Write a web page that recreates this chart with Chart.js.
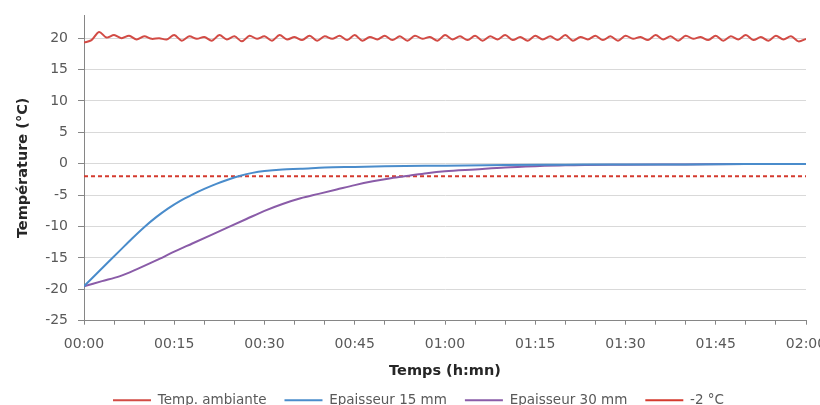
<!DOCTYPE html>
<html><head><meta charset="utf-8">
<script src="https://cdn.jsdelivr.net/npm/chart.js@4.4.0/dist/chart.umd.min.js"></script>
<style>html,body{margin:0;padding:0;background:#fff;overflow:hidden}#wrap{width:820px;height:420px;position:relative}</style>
</head><body><div id="wrap"><canvas id="c"></canvas></div>
<script>
// X tick labels (every 15 minutes) and Y tick values
const timeLabels = ['00:00','00:15','00:30','00:45','01:00','01:15','01:30','01:45','02:00'];
const yTickValues = [-25,-20,-15,-10,-5,0,5,10,15,20];

// Ambient temperature (sampled every 1.25 min)
const ambientStep = 1.25;
const ambientValues = [19.3,19.7,21.0,20.1,20.5,20.0,20.4,19.8,20.3,19.9,20.0,19.8,20.5,19.6,20.3,19.9,20.2,19.6,20.5,19.8,
20.3,19.5,20.4,19.9,20.3,19.6,20.5,19.8,20.2,19.7,20.4,19.6,20.3,19.9,20.4,19.7,20.5,19.6,20.2,19.8,
20.4,19.7,20.3,19.6,20.4,19.9,20.2,19.6,20.5,19.8,20.3,19.7,20.4,19.6,20.3,19.8,20.5,19.7,20.2,19.6,
20.4,19.8,20.3,19.7,20.5,19.6,20.2,19.8,20.4,19.7,20.3,19.6,20.4,19.9,20.2,19.7,20.5,19.8,20.3,19.6,
20.4,19.9,20.2,19.7,20.4,19.6,20.3,19.8,20.5,19.7,20.2,19.6,20.4,19.8,20.3,19.5,19.9];

// Thickness 15 mm
const times15 = [0,2,4,6,8,10,12,14,16,18,20,22,24,26,28,30,33,36,40,45,50,60,70,80,90,100,110,120];
const values15 = [-19.5,-17.6,-15.7,-13.8,-11.9,-10.1,-8.5,-7.1,-5.9,-4.9,-4.0,-3.2,-2.5,-1.9,-1.45,-1.15,-0.9,-0.8,-0.6,-0.5,-0.4,-0.3,-0.2,-0.15,-0.1,-0.1,-0.05,-0.05];

// Thickness 30 mm
const times30 = [0,3,6,9,12,15,18,21,24,27,30,33,36,39,42,45,48,51,54,57,60,65,70,75,80,90,100,110,120];
const values30 = [-19.5,-18.7,-17.9,-16.7,-15.4,-14.0,-12.7,-11.4,-10.1,-8.8,-7.5,-6.4,-5.5,-4.8,-4.1,-3.4,-2.8,-2.3,-1.9,-1.5,-1.2,-0.9,-0.6,-0.4,-0.25,-0.15,-0.1,-0.05,-0.05];

// -2 °C reference
const limitTimes = [0,120];
const limitValues = [-2,-2];

const pts = (ts, vs) => vs.map((v,i)=>({x:ts[i], y:v}));
const ambientTimes = ambientValues.map((v,i)=>i*ambientStep);

const FONT = 'DejaVu Sans';
new Chart(document.getElementById('c'), {
  type: 'line',
  data: {
    datasets: [
      {label:'Temp. ambiante', data: pts(ambientTimes, ambientValues), borderColor:'#D24B45', borderWidth:2, pointRadius:0, tension:0.3},
      {label:'Epaisseur 15 mm', data: pts(times15, values15), borderColor:'#4A8CCB', borderWidth:2, pointRadius:0, cubicInterpolationMode:'monotone'},
      {label:'Epaisseur 30 mm', data: pts(times30, values30), borderColor:'#8A5CA8', borderWidth:2, pointRadius:0, cubicInterpolationMode:'monotone'},
      {label:'-2 °C', data: pts(limitTimes, limitValues), borderColor:'#D43A2E', borderWidth:2, borderDash:[4,3], pointRadius:0}
    ]
  },
  options: {
    responsive:true, maintainAspectRatio:false, animation:false,
    layout:{autoPadding:false, padding:{left:31, right:14, top:15, bottom:3}},
    plugins:{
      tooltip:{enabled:false},
      legend:{position:'bottom', labels:{usePointStyle:true, pointStyle:'line', pointStyleWidth:38, padding:18, color:'#595959', font:{family:FONT, size:13.5}}}
    },
    scales:{
      x:{type:'linear', min:0, max:120,
        afterFit:(s)=>{ s.height = 54.8; s.paddingLeft = 0; s.paddingRight = 0; },
        ticks:{stepSize:5, autoSkip:false, maxRotation:0, padding:11, color:'#595959', font:{family:FONT, size:14},
          callback:(v)=> (v%15===0 ? timeLabels[v/15] : '')},
        grid:{drawOnChartArea:false, drawTicks:true, tickLength:4, tickColor:'#868686'},
        border:{display:true, color:'#868686'},
        title:{display:true, text:'Temps (h:mn)', color:'#262626', font:{family:FONT, size:14.5, weight:'bold'}, padding:{top:0, bottom:-4}}
      },
      y:{min:-25, max:23.7,
        afterBuildTicks:(s)=>{ s.ticks = yTickValues.map(v=>({value:v})); },
        afterFit:(s)=>{ s.width = 53; s.paddingTop = 0; s.paddingBottom = 0; },
        ticks:{padding:10, color:'#595959', font:{family:FONT, size:14}},
        grid:{color:'#D9D9D9', drawTicks:true, tickLength:6, tickColor:'#868686'},
        border:{display:true, color:'#868686'},
        title:{display:true, text:'Température (°C)', color:'#262626', font:{family:FONT, size:14.5, weight:'bold'}, padding:{top:-16, bottom:0}}
      }
    }
  }
});
</script></body></html>
